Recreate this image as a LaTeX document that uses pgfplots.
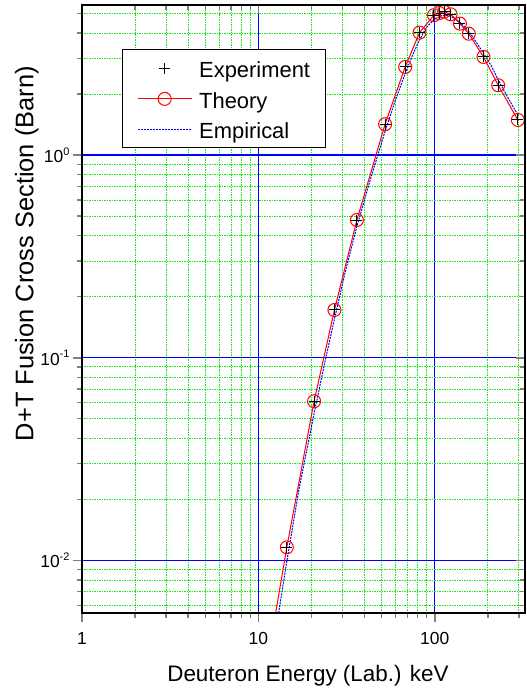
\documentclass[border=0pt]{standalone}
\usepackage{fontspec}
\setmainfont{Liberation Sans}
\usepackage{pgfplots}
\pgfplotsset{compat=1.18}
\definecolor{gridgreen}{RGB}{20,235,20}
\newcommand{\ep}[1]{\raisebox{0.8ex}{\fontsize{11}{11}\selectfont #1}}

\begin{document}
\begin{tikzpicture}
\begin{axis}[
  at={(0,0)}, anchor=south west,
  scale only axis, width=443bp, height=608bp,
  xmode=log, ymode=log,
  xmin=1, xmax=325, ymin=0.0055, ymax=5.5,
  minor xtick={2,3,4,5,6,7,8,9,20,30,40,50,60,70,80,90,200,300},
  minor ytick={0.006,0.007,0.008,0.009,0.02,0.03,0.04,0.05,0.06,0.07,0.08,0.09,0.2,0.3,0.4,0.5,0.6,0.7,0.8,0.9,2,3,4,5},
  major tick length=9bp, minor tick length=5bp,
  major tick style={line width=1.6bp},
  minor tick style={line width=1.4bp},
  axis line style={line width=1.8bp},
  xtick={1,10,100}, xticklabels={1,10,100},
  ytick={0.01,0.1,1}, yticklabels={10\ep{-2},10\ep{-1},10\ep{0}},
  tick pos=left, tick align=outside,
  tick label style={font=\fontsize{17.5}{20}\selectfont},
  xticklabel style={yshift=-7bp},
  xmajorgrids, ymajorgrids, xminorgrids, yminorgrids,
  every major grid/.style={blue, line width=1.3bp, solid},
  every minor grid/.style={gridgreen, line width=1bp, dash pattern=on 1.2bp off 1.3bp},
  xlabel={Deuteron Energy (Lab.) keV},
  ylabel={D+T Fusion Cross Section (Barn)},
  xlabel style={at={(axis description cs:0.51,0)}, anchor=base, yshift=-68.7bp, font=\fontsize{22.5}{27}\selectfont},
  ylabel style={at={(axis description cs:0,0.591)}, anchor=base, yshift=48.7bp, font=\fontsize{25.5}{30}\selectfont},
  legend style={at={(axis description cs:0.0896,0.927)}, anchor=north west,
    draw=black, line width=1bp, fill=white,
    font=\fontsize{22}{26}\selectfont,
    inner xsep=15bp, inner ysep=4bp, row sep=1.5bp,
    nodes={inner sep=0bp, text height=24bp, text depth=5bp},
    /tikz/every odd column/.append style={column sep=7bp}},
  legend cell align=left,
  legend image code/.code={\draw[mark repeat=2,mark phase=2] plot coordinates {(0bp,0bp) (27bp,0bp) (54bp,0bp)};},
]
% Experiment (legend only first)
\addplot[only marks, black, mark=+, mark size=5.5bp, mark options={line width=1bp}] coordinates {
(14.5,0.0116) (20.7,0.061) (27.0,0.172) (36.2,0.478) (52.3,1.42) (68,2.72) (82,4.02)
(99,4.9) (106,5.02) (113,5.1) (123,4.95) (139,4.45) (156,3.97) (189,3.05) (229,2.21) (296,1.49)
};
\addlegendentry{Experiment}
% Theory
\addplot[red, line width=1bp, mark=o, mark size=6.5bp, mark options={solid, fill=white, line width=1bp}] coordinates {
(12.2,0.0048) (14.5,0.0116) (20.7,0.061) (27.0,0.172) (36.2,0.478) (52.3,1.42) (68,2.72) (82,4.02)
(99,4.9) (106,5.02) (113,5.1) (123,4.95) (139,4.45) (156,3.97) (189,3.05) (229,2.21) (296,1.49)
};
\addlegendentry{Theory}
% Empirical
\addplot[blue, line width=1bp, dash pattern=on 2bp off 1bp] coordinates {
(12.7,0.0048) (14.5,0.0099) (17,0.0225) (20.7,0.053) (24,0.098) (27,0.155) (31,0.262) (36.2,0.445)
(43,0.75) (52.3,1.31) (60,1.88) (68,2.52) (75,3.12) (82,3.7) (90,4.28) (100,4.7) (110,4.88)
(120,4.88) (130,4.72) (139,4.52) (156,4.08) (170,3.66) (189,3.18) (210,2.74) (229,2.35) (260,1.92) (298,1.56)
};
\addlegendentry{Empirical}
% Experiment again on top
\addplot[forget plot, only marks, black, mark=+, mark size=5.5bp, mark options={line width=1bp}] coordinates {
(14.5,0.0116) (20.7,0.061) (27.0,0.172) (36.2,0.478) (52.3,1.42) (68,2.72) (82,4.02)
(99,4.9) (106,5.02) (113,5.1) (123,4.95) (139,4.45) (156,3.97) (189,3.05) (229,2.21) (296,1.49)
};
\end{axis}
\begin{axis}[
  at={(0,0)}, anchor=south west,
  scale only axis, width=443bp, height=608bp,
  xmode=log, ymode=log,
  xmin=1, xmax=325, ymin=0.0055, ymax=5.5,
  minor xtick={2,3,4,5,6,7,8,9,20,30,40,50,60,70,80,90,200,300},
  minor ytick={0.006,0.007,0.008,0.009,0.02,0.03,0.04,0.05,0.06,0.07,0.08,0.09,0.2,0.3,0.4,0.5,0.6,0.7,0.8,0.9,2,3,4,5},
  major tick length=9bp, minor tick length=5bp,
  major tick style={line width=1.6bp},
  minor tick style={line width=1.4bp},
  axis line style={line width=1.8bp},
  xtick={10,100}, ytick={0.01,0.1,1},
  xticklabels={}, yticklabels={},
  tick pos=right, tick align=inside,
]
\end{axis}
\pgfresetboundingbox
\path[use as bounding box] (-82bp,-78bp) rectangle (445bp,613bp);
\end{tikzpicture}
\end{document}
